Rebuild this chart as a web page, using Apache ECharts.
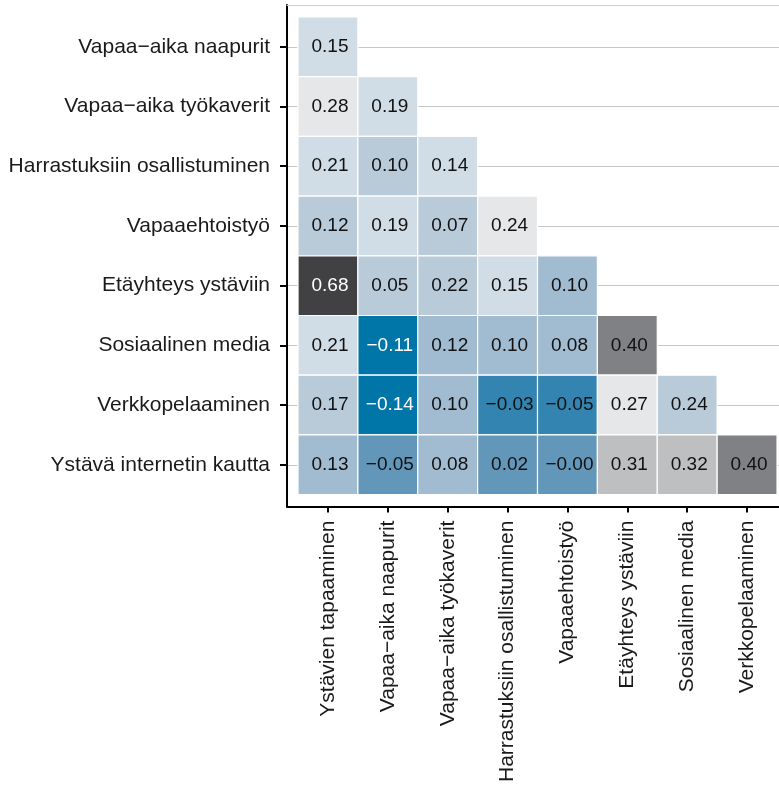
<!DOCTYPE html>
<html>
<head>
<meta charset="utf-8">
<script src="https://cdn.jsdelivr.net/npm/echarts@6/dist/echarts.min.js"></script>
<style>
  html, body { margin: 0; padding: 0; background: #fff; }
  #chart { width: 779px; height: 785px; }
</style>
</head>
<body>
<div id="chart"></div>
<script>
// Row variables (top to bottom) and column variables (left to right)
const rowLabels = [
  'Vapaa−aika naapurit',
  'Vapaa−aika työkaverit',
  'Harrastuksiin osallistuminen',
  'Vapaaehtoistyö',
  'Etäyhteys ystäviin',
  'Sosiaalinen media',
  'Verkkopelaaminen',
  'Ystävä internetin kautta'
];
const colLabels = [
  'Ystävien tapaaminen',
  'Vapaa−aika naapurit',
  'Vapaa−aika työkaverit',
  'Harrastuksiin osallistuminen',
  'Vapaaehtoistyö',
  'Etäyhteys ystäviin',
  'Sosiaalinen media',
  'Verkkopelaaminen'
];

// Lower-triangle correlations, one array per row
const corrRows = [
  [0.15],
  [0.28, 0.19],
  [0.21, 0.10, 0.14],
  [0.12, 0.19, 0.07, 0.24],
  [0.68, 0.05, 0.22, 0.15, 0.10],
  [0.21, -0.11, 0.12, 0.10, 0.08, 0.40],
  [0.17, -0.14, 0.10, -0.03, -0.05, 0.27, 0.24],
  [0.13, -0.05, 0.08, 0.02, -0.004, 0.31, 0.32, 0.40]
];

// Shade group of each cell (0 = deepest blue ... 9 = darkest grey)
const shadeRows = [
  [5],
  [6, 5],
  [5, 4, 5],
  [4, 5, 4, 6],
  [9, 4, 4, 5, 3],
  [5, 0, 3, 3, 3, 8],
  [4, 0, 3, 1, 1, 6, 4],
  [3, 2, 3, 2, 2, 7, 7, 8]
];

const shadePalette = ['#0075a8', '#3384b0', '#6397ba', '#a1bbd0', '#b9cad9',
                      '#d1dde6', '#e6e7e9', '#bebfc1', '#808184', '#414143'];
const lightTextGroups = [0, 9];

const cells = [];
corrRows.forEach((row, r) => {
  row.forEach((v, c) => cells.push([c, r, v, shadeRows[r][c]]));
});

const idx = colLabels.map((_, i) => i);
const FONT = '"Liberation Sans", Arial, sans-serif';

function fmt(v) {
  return v.toFixed(2).replace('-', '−');
}

const chart = echarts.init(document.getElementById('chart'), null, { renderer: 'canvas' });

// the panel continues a little past the right edge of the canvas
const X_MIN = -0.684, X_MAX = 7.533;

chart.setOption({
  animation: false,
  backgroundColor: '#ffffff',
  grid: { left: 287, right: 0, top: 5, bottom: 278, containLabel: false },
  visualMap: {
    type: 'piecewise',
    show: false,
    dimension: 3,
    seriesIndex: 0,
    pieces: shadePalette.map((color, i) => ({ value: i, color }))
  },
  xAxis: [
    {
      type: 'value',
      min: X_MIN,
      max: X_MAX,
      position: 'bottom',
      axisLine: { show: true, onZero: false, lineStyle: { color: '#000', width: 2 } },
      axisTick: { show: true, length: 6, customValues: idx, lineStyle: { color: '#000', width: 2 } },
      axisLabel: {
        customValues: idx,
        formatter: v => colLabels[Math.round(v)],
        rotate: 90,
        margin: 14,
        fontSize: 21,
        fontFamily: FONT,
        color: '#1a1a1a'
      },
      splitLine: { show: false }
    },
    {
      type: 'value',
      min: X_MIN,
      max: X_MAX,
      position: 'top',
      axisLine: { show: true, onZero: false, lineStyle: { color: '#cfcfcf', width: 1 } },
      axisTick: { show: false },
      axisLabel: { show: false },
      splitLine: { show: false }
    }
  ],
  yAxis: {
    type: 'value',
    inverse: true,
    min: -0.7,
    max: 7.7,
    axisLine: { show: true, onZero: false, lineStyle: { color: '#000', width: 2 } },
    axisTick: { show: true, length: 7, customValues: idx, lineStyle: { color: '#000', width: 2 } },
    axisLabel: {
      customValues: idx,
      formatter: v => rowLabels[Math.round(v)],
      margin: 17,
      fontSize: 21,
      fontFamily: FONT,
      color: '#1a1a1a'
    },
    splitLine: { show: true, lineStyle: { color: '#c8c8c8', width: 1 } }
  },
  series: [{
    type: 'custom',
    xAxisIndex: 0,
    yAxisIndex: 0,
    data: cells,
    encode: { x: 0, y: 1 },
    renderItem: function (params, api) {
      const c = api.value(0);
      const r = api.value(1);
      const p0 = api.coord([c - 0.5, r - 0.5]);
      const p1 = api.coord([c + 0.5, r + 0.5]);
      const x = Math.min(p0[0], p1[0]);
      const y = Math.min(p0[1], p1[1]);
      const w = Math.abs(p1[0] - p0[0]);
      const h = Math.abs(p1[1] - p0[1]);
      const group = api.value(3);
      return {
        type: 'group',
        children: [
          {
            type: 'rect',
            shape: { x: x, y: y, width: w, height: h },
            style: { fill: api.visual('color'), stroke: '#ffffff', lineWidth: 1.2 }
          },
          {
            type: 'text',
            style: {
              x: x + w / 2 + 2,
              y: y + h / 2,
              text: fmt(api.value(2)),
              fill: lightTextGroups.indexOf(group) >= 0 ? '#ffffff' : '#111111',
              font: '19px ' + FONT,
              align: 'center',
              verticalAlign: 'middle'
            }
          }
        ]
      };
    }
  }]
});
</script>
</body>
</html>
